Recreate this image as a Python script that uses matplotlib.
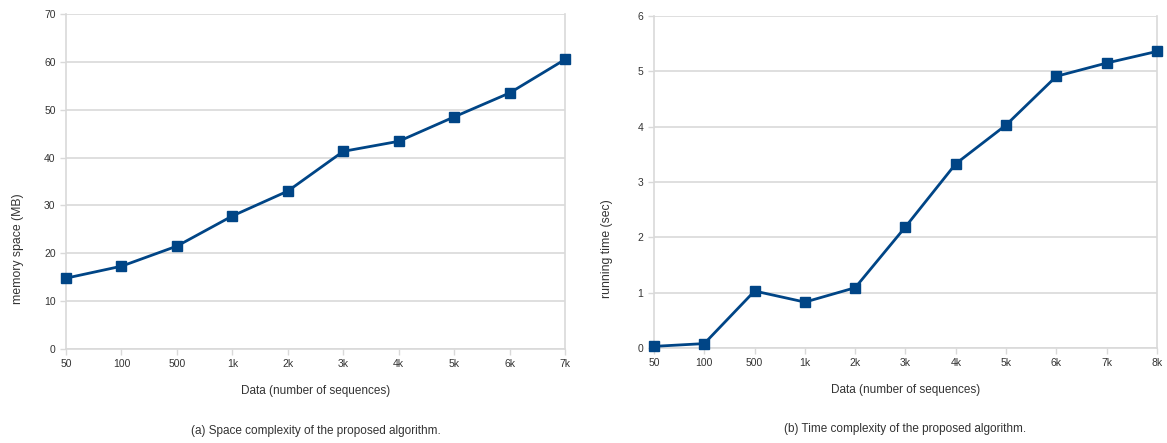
import matplotlib
matplotlib.use('Agg')
import matplotlib.pyplot as plt

plt.rcParams['font.family'] = ['Liberation Sans', 'DejaVu Sans']

# data
space_labels = ['50', '100', '500', '1k', '2k', '3k', '4k', '5k', '6k', '7k']
space_mb = [14.8, 17.3, 21.5, 27.8, 33.0, 41.3, 43.4, 48.5, 53.5, 60.5]

time_labels = ['50', '100', '500', '1k', '2k', '3k', '4k', '5k', '6k', '7k', '8k']
time_sec = [0.03, 0.08, 1.03, 0.83, 1.09, 2.19, 3.33, 4.03, 4.91, 5.15, 5.36]

line_col = '#004586'
grid_col = '#d9d9d9'
text_col = '#333333'

fig = plt.figure(figsize=(11.67, 4.43), dpi=100)


def draw(ax, labels, vals, ymax, ystep, ylabel, caption, ylab_x):
    xs = list(range(len(labels)))
    ax.plot(xs, vals, color=line_col, lw=2, marker='s', ms=7.5, clip_on=False, zorder=3)
    ax.set_xlim(0, len(labels) - 1)
    ax.set_ylim(0, ymax)
    ax.set_xticks(xs)
    ax.set_xticklabels(labels)
    ax.set_yticks(range(0, ymax + 1, ystep))
    ax.yaxis.grid(True, color=grid_col, lw=1.2)
    ax.set_axisbelow(True)
    for s in ['left', 'bottom', 'right']:
        ax.spines[s].set_color(grid_col)
        ax.spines[s].set_linewidth(1.2)
    ax.spines['top'].set_visible(False)
    ax.tick_params(colors=grid_col, labelcolor=text_col, labelsize=7.5, length=4, width=1)
    ax.set_xlabel('Data (number of sequences)', fontsize=8.5, color=text_col, labelpad=11)
    ax.set_ylabel(ylabel, fontsize=8.8, color=text_col)
    ax.yaxis.set_label_coords(ylab_x, 0.30)
    ax.text(0.5, -0.245, caption, transform=ax.transAxes, ha='center', va='center',
            fontsize=8.5, color=text_col)


ax1 = fig.add_axes([0.0566, 0.2122, 0.4276, 0.7562])
draw(ax1, space_labels, space_mb, 70, 10, 'memory space (MB)',
     '(a) Space complexity of the proposed algorithm.', -0.084)

ax2 = fig.add_axes([0.5604, 0.2144, 0.4310, 0.7495])
draw(ax2, time_labels, time_sec, 6, 1, 'running time (sec)',
     '(b) Time complexity of the proposed algorithm.', -0.081)

fig.savefig('out.png', dpi=100)
